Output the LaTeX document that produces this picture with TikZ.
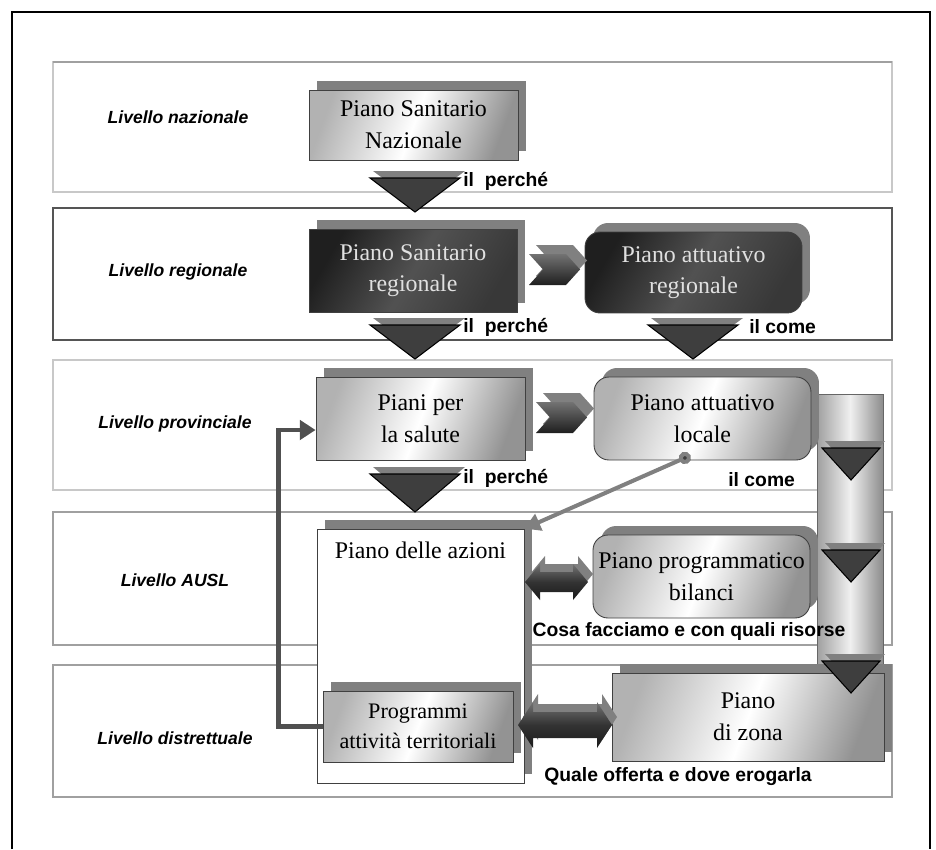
\documentclass[tikz,border=0pt]{standalone}
\usepackage{fontspec}
\setmainfont{Liberation Serif}
\setsansfont{Liberation Sans}
\usetikzlibrary{arrows.meta,shadows}
\definecolor{shadegrey}{RGB}{128,128,128}
\definecolor{darkfill}{RGB}{62,62,62}
\definecolor{bandpale}{RGB}{200,200,200}
\definecolor{bandmid}{RGB}{160,160,160}
\definecolor{banddark}{RGB}{85,85,85}
\definecolor{linkgrey}{RGB}{80,80,80}
% down triangle: centre x, top y, half width, height
\newcommand{\plantri}[4]{%
  \fill[shadegrey] (#1-#3+3,#2-7) -- (#1+#3+5,#2-7) -- (#1+4,#2+#4-7) -- cycle;
  \draw[black,line width=0.6pt,fill=darkfill] (#1-#3,#2) -- (#1+#3,#2) -- (#1,#2+#4) -- cycle;}
% chevron: left x, top y
\newcommand{\planchevron}[2]{%
  \fill[shadegrey] (#1+7,#2-9) -- (#1+44,#2-9) -- (#1+58,#2+6.5) -- (#1+44,#2+22)
    -- (#1+7,#2+22) -- (#1+21,#2+6.5) -- cycle;
  \shade[top color=black!55,bottom color=black!88] (#1,#2) -- (#1+37,#2) -- (#1+51,#2+15.5)
    -- (#1+37,#2+31) -- (#1,#2+31) -- (#1+14,#2+15.5) -- cycle;}
% double block arrow: left x, right x, mid y, head half, shaft half
\newcommand{\plantwin}[5]{%
  \fill[shadegrey,shift={(5,-8)}] (#1,#3) -- (#1+15,#3-#4) -- (#1+15,#3-#5) -- (#2-15,#3-#5)
    -- (#2-15,#3-#4) -- (#2,#3) -- (#2-15,#3+#4) -- (#2-15,#3+#5) -- (#1+15,#3+#5)
    -- (#1+15,#3+#4) -- cycle;
  \shade[top color=black!55,bottom color=black!90,middle color=black!80] (#1,#3) -- (#1+15,#3-#4)
    -- (#1+15,#3-#5) -- (#2-15,#3-#5) -- (#2-15,#3-#4) -- (#2,#3) -- (#2-15,#3+#4)
    -- (#2-15,#3+#5) -- (#1+15,#3+#5) -- (#1+15,#3+#4) -- cycle;}

\begin{document}
\begin{tikzpicture}[x=0.02cm,y=-0.02cm,
    plantext/.style={font=\fontsize{13.6}{18}\selectfont,align=center},
    planbox/.style={plantext,draw=black!75,line width=0.5pt,inner sep=0pt,
      general shadow={fill=shadegrey,shadow xshift=0.16cm,shadow yshift=0.18cm}},
    lightbox/.style={planbox,left color=gray!60,right color=gray!85,middle color=white,shading angle=70},
    darkbox/.style={planbox,left color=black!88,right color=black!78,middle color=black!68,
      shading angle=60,text=white!88!black},
    roundbox/.style={rounded corners=0.3cm},
    tagtext/.style={font=\sffamily\bfseries\fontsize{11}{13}\selectfont,anchor=west,inner sep=0pt},
    leveltext/.style={font=\sffamily\bfseries\itshape\fontsize{10}{12}\selectfont}]
  \useasboundingbox (0,0) rectangle (936,849);
  % frame
  \draw[line width=0.8pt] (12,849) -- (12,12) -- (930,12) -- (930,849);
  % levels
  \draw[bandpale,line width=1.3pt] (53,62) rectangle (892,192);
  \draw[bandmid,line width=1.6pt] (53,62) -- (892,62);
  \draw[banddark,line width=1.5pt] (53,208) rectangle (892,340);
  \draw[bandpale,line width=1.4pt] (53,360) rectangle (892,490);
  \draw[bandmid,line width=1.4pt] (53,512) rectangle (892,645);
  \draw[bandmid,line width=1.4pt] (53,665) rectangle (892,797);
  \node[leveltext] (lnaz) at (178,117) {Livello nazionale};
  \node[leveltext] (lreg) at (178,272) {Livello regionale};
  \node[leveltext] (lprov) at (175,424) {Livello provinciale};
  \node[leveltext] (lausl) at (175,580) {Livello AUSL};
  \node[leveltext] (ldist) at (175,738) {Livello distrettuale};
  % pillar
  \draw[black!60,left color=gray!75,right color=gray!90,middle color=gray!12]
    (817,394) rectangle (883,700);
  % plans
  \node[lightbox,minimum width=4.18cm,minimum height=1.4cm] (psn) at (413.5,125)
    {Piano Sanitario\\Nazionale};
  \node[darkbox,minimum width=4.16cm,minimum height=1.66cm] (psr) at (413,270.5)
    {Piano Sanitario\\regionale};
  \node[darkbox,roundbox,minimum width=4.34cm,minimum height=1.62cm] (par) at (693.5,272.5)
    {Piano attuativo\\regionale};
  \node[lightbox,minimum width=4.18cm,minimum height=1.66cm] (piani) at (420.5,418.5)
    {Piani per\\la salute};
  \node[lightbox,roundbox,minimum width=4.34cm,minimum height=1.66cm] (pal) at (702.5,418.5)
    {Piano attuativo\\locale};
  \node[planbox,fill=white,minimum width=4.14cm,minimum height=5.08cm,
    label={[plantext,anchor=north,yshift=-0.15cm]north:Piano delle azioni}] (azioni) at (420.5,656) {};
  \node[lightbox,roundbox,minimum width=4.34cm,minimum height=1.66cm] (bilanci) at (701.5,576.5)
    {Piano programmatico\\bilanci};
  \node[lightbox,minimum width=3.8cm,minimum height=1.42cm,font=\fontsize{12.6}{17}\selectfont]
    (programmi) at (418,726.5) {Programmi\\attività territoriali};
  \node[lightbox,minimum width=5.44cm,minimum height=1.76cm] (zona) at (748,717)
    {Piano\\di zona};
  % block arrows
  \plantri{415}{178}{45}{34}
  \plantri{415}{325}{45}{34}
  \plantri{693}{325}{45}{34}
  \plantri{415}{474}{45}{38}
  \plantri{851}{448}{29}{32}
  \plantri{851}{550}{29}{32}
  \plantri{851}{661}{29}{32}
  \planchevron{529}{254}
  \planchevron{536}{402}
  \plantwin{525}{588}{582}{18}{10}
  \plantwin{518}{612}{725}{23}{13}
  % tags
  \node[tagtext] (why1) at (463,181) {il\ \ perché};
  \node[tagtext] (why2) at (463,327) {il\ \ perché};
  \node[tagtext] (how1) at (749,327) {il come};
  \node[tagtext] (why3) at (463,478) {il\ \ perché};
  \node[tagtext] (how2) at (728,480) {il come};
  \node[tagtext,anchor=center] (cosa) at (689,631) {Cosa facciamo e con quali risorse};
  \node[tagtext,anchor=center] (quale) at (678,777) {Quale offerta e dove erogarla};
  % links
  \draw[linkgrey,line width=2.8pt,-{Triangle[length=9pt,width=11pt]}]
    (programmi.west) -- ++(-44,0) |- ([yshift=-0.23cm]piani.west);
  \draw[shadegrey,line width=2.3pt,{Circle[length=7pt,fill=darkfill]}-{Triangle[length=9pt,width=10pt]}]
    ([xshift=-0.24cm,yshift=0.1cm]pal.south) -- (azioni.north east);
\end{tikzpicture}
\end{document}
